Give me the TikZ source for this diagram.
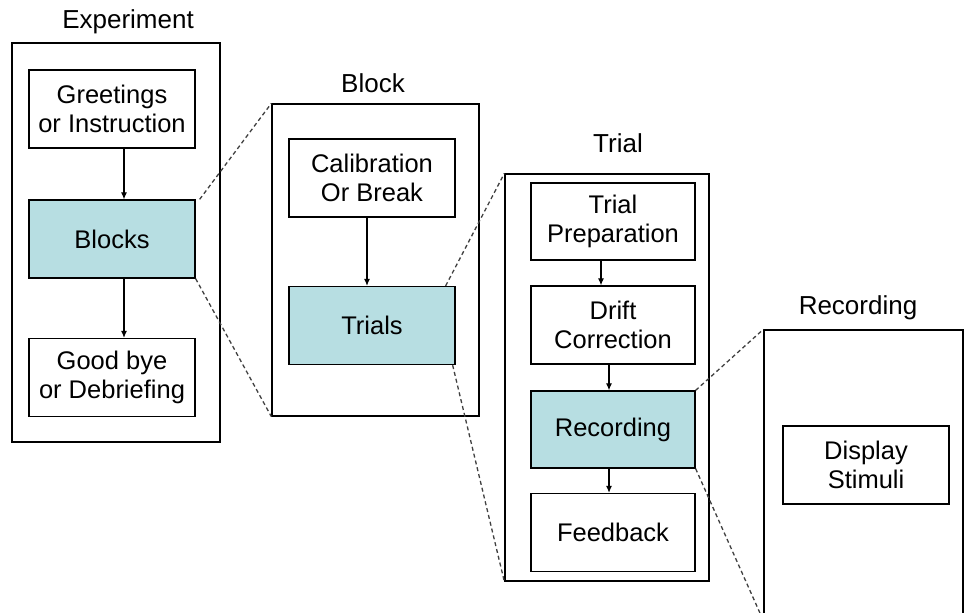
\documentclass[tikz,border=0pt]{standalone}
\usepackage{fontspec}
\setmainfont{Liberation Sans}
\usetikzlibrary{arrows.meta}
\definecolor{stagefill}{RGB}{183,222,226}

\begin{document}
\begin{tikzpicture}[x=1pt,y=-1pt,
  frame/.style={draw,line width=1.3pt,inner sep=0pt},
  stepbox/.style={draw,line width=1.3pt,fill=white,minimum width=166pt,minimum height=78pt,align=center,inner sep=0pt,
    font=\fontsize{25.5}{29}\selectfont},
  hot/.style={stepbox,fill=stagefill},
  title/.style={font=\fontsize{26}{29}\selectfont,inner sep=0pt},
  flow/.style={-{Latex[length=7pt,width=6pt]},line width=1.1pt},
  zoomline/.style={black!75,line width=1.3pt,dash pattern=on 4pt off 3pt}]
\clip (0,0) rectangle (964,613);
\fill[white] (0,0) rectangle (964,613);
\node[frame,minimum width=208pt,minimum height=399pt] (expframe) at (116,242.5) {};
\node[frame,minimum width=207pt,minimum height=312pt] (blkframe) at (375.5,260) {};
\node[frame,minimum width=204pt,minimum height=407pt] (trlframe) at (607,377.5) {};
\node[frame,minimum width=199pt,minimum height=290pt] (recframe) at (863.5,475) {};
\node[title] (exptitle) at (128,22) {Experiment};
\node[title] (blktitle) at (373,83) {Block};
\node[title] (trltitle) at (618,143) {Trial};
\node[title] (rectitle) at (858,308) {Recording};
\node[stepbox] (greet) at (112,109) {Greetings\\or Instruction};
\node[hot] (blocks) at (112,239) {Blocks};
\node[stepbox] (goodbye) at (112,377.5) {Good bye\\or Debriefing};
\node[stepbox] (calib) at (372,178) {Calibration\\Or Break};
\node[hot] (trials) at (372,325.5) {Trials};
\node[stepbox,minimum width=164pt,minimum height=77pt] (prep) at (613,221.5) {Trial\\Preparation};
\node[stepbox,minimum width=164pt] (drift) at (613,325) {Drift\\Correction};
\node[hot,minimum width=164pt,minimum height=77pt] (recording) at (613,429.5) {Recording};
\node[stepbox,minimum width=164pt] (feedback) at (613,532.5) {Feedback};
\node[stepbox] (display) at (866,465) {Display\\Stimuli};
\draw[flow] ([xshift=12pt]greet.south) -- ([xshift=12pt]blocks.north);
\draw[flow] ([xshift=12pt]blocks.south) -- ([xshift=12pt]goodbye.north);
\draw[flow] ([xshift=-5pt]calib.south) -- ([xshift=-5pt]trials.north);
\draw[flow] ([xshift=-12pt]prep.south) -- ([xshift=-12pt]drift.north);
\draw[flow] ([xshift=-4pt]drift.south) -- ([xshift=-4pt]recording.north);
\draw[flow] ([xshift=-4pt]recording.south) -- ([xshift=-4pt]feedback.north);
\draw[zoomline] ([xshift=4pt]blocks.north east) -- (blkframe.north west);
\draw[zoomline] (blocks.south east) -- (blkframe.south west);
\draw[zoomline] ([xshift=-10pt]trials.north east) -- (trlframe.north west);
\draw[zoomline] ([xshift=-3pt]trials.south east) -- (trlframe.south west);
\draw[zoomline] (recording.north east) -- (recframe.north west);
\draw[zoomline] (recording.south east) -- (recframe.south west);
\end{tikzpicture}
\end{document}
